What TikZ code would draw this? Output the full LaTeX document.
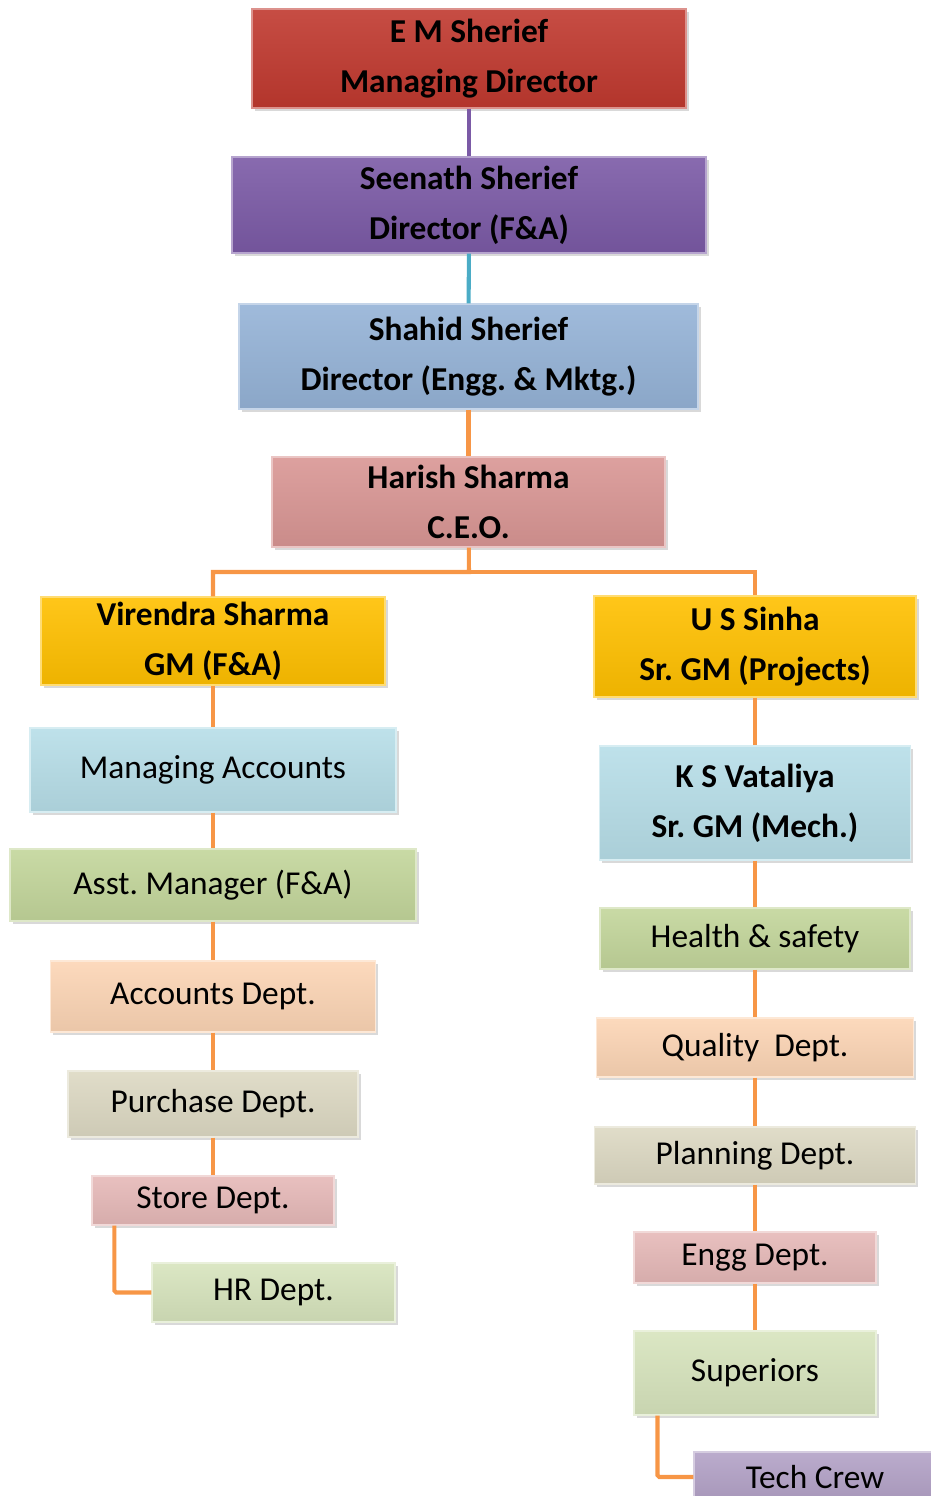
\documentclass[tikz,border=0pt]{standalone}
\usepackage{fontspec}
\setmainfont{Carlito}
\frenchspacing
\usetikzlibrary{shadows}

\definecolor{mdred}{HTML}{C0392F}
\definecolor{dirpurple}{HTML}{7B5AA6}
\definecolor{dirblue}{HTML}{95B3D7}
\definecolor{ceopink}{HTML}{D99694}
\definecolor{gmgold}{HTML}{FFC000}
\definecolor{paleblue}{HTML}{B7DEE8}
\definecolor{palegreen}{HTML}{C3D69B}
\definecolor{peach}{HTML}{FCD5B5}
\definecolor{tan}{HTML}{DDD9C3}
\definecolor{palepink}{HTML}{E6B9B8}
\definecolor{lightgreen}{HTML}{D7E4BD}
\definecolor{lavender}{HTML}{B3A2C7}
\definecolor{linkorange}{HTML}{F79646}
\definecolor{linkteal}{HTML}{4BACC6}

\tikzset{
  box/.style={rectangle, inner sep=0pt, align=center,
    font=\fontsize{19}{28.5}\selectfont,
    top color=#1!90!white, bottom color=#1!93!black,
    draw=#1!55!white, line width=0.6pt,
    drop shadow={opacity=0.3, shadow xshift=1.5pt, shadow yshift=-1.5pt}},
  head/.style={font=\fontsize{19}{28.5}\selectfont\bfseries},
  size/.style 2 args={minimum width=#1*0.02cm, minimum height=#2*0.02cm},
  link/.style={line width=2.3pt, draw=#1},
}

\begin{document}
\begin{tikzpicture}[x=0.02cm, y=-0.02cm]
    \useasboundingbox (0,0) rectangle (930,1496);

    % top of the tree
    \node[box=mdred, head, size={434}{99}] (md) at (469,58.5) {E M Sherief\\Managing Director};
    \node[box=dirpurple, head, size={474}{96}] (dirfa) at (469,205) {Seenath Sherief\\Director (F\&A)};
    \node[box=dirblue, head, size={459}{105}] (direm) at (468.5,356.5) {Shahid Sherief\\Director (Engg. \& Mktg.)};
    \node[box=ceopink, head, size={393}{90}] (ceo) at (468.5,502) {Harish Sharma\\C.E.O.};
    \coordinate (split) at (469,572);

    % left column
    \node[box=gmgold, head, size={344}{88}] (gmfa) at (213,641) {Virendra Sharma\\GM (F\&A)};
    \node[box=paleblue, size={366}{84}] (macc) at (213,770) {Managing Accounts};
    \node[box=palegreen, size={406}{72}] (asst) at (213,885) {Asst. Manager (F\&A)};
    \node[box=peach, size={325}{71}] (acc) at (213,996.5) {Accounts Dept.};
    \node[box=tan, size={290}{66}] (purch) at (213,1104) {Purchase Dept.};
    \node[box=palepink, size={242}{49}] (store) at (213,1200.5) {Store Dept.};
    \node[box=lightgreen, size={243}{59}] (hr) at (273.5,1292.5) {HR Dept.};

    % right column
    \node[box=gmgold, head, size={322}{101}] (gmproj) at (755,646.5) {U S Sinha\\Sr. GM (Projects)};
    \node[box=paleblue, head, size={311}{114}] (gmmech) at (755,803) {K S Vataliya\\Sr. GM (Mech.)};
    \node[box=palegreen, size={310}{61}] (hse) at (755,938.5) {Health \& safety};
    \node[box=peach, size={317}{59}] (qual) at (755,1047.5) {Quality~ Dept.};
    \node[box=tan, size={321}{57}] (plan) at (755,1155.5) {Planning Dept.};
    \node[box=palepink, size={242}{51}] (engg) at (755,1257.5) {Engg Dept.};
    \node[box=lightgreen, size={242}{84}] (sup) at (755,1373) {Superiors};
    \node[box=lavender, size={242}{50}] (crew) at (815,1477) {Tech Crew};

    % connectors
    \draw[link=dirpurple] (md) -- (dirfa);
    \draw[link=linkteal] (dirfa) -- (direm);
    \draw[link=linkorange] (direm) -- (ceo);
    \draw[link=linkorange] (ceo) -- (split) -| (gmfa);
    \draw[link=linkorange] (split) -| (gmproj);

    \draw[link=linkorange] (gmfa) -- (macc);
    \draw[link=linkorange] (macc) -- (asst);
    \draw[link=linkorange] (asst) -- (acc);
    \draw[link=linkorange] (acc) -- (purch);
    \draw[link=linkorange] (purch) -- (store);
    \draw[link=linkorange, rounded corners=1pt] ([xshift=0.46cm]store.south west) |- (hr.west);

    \draw[link=linkorange] (gmproj) -- (gmmech);
    \draw[link=linkorange] (gmmech) -- (hse);
    \draw[link=linkorange] (hse) -- (qual);
    \draw[link=linkorange] (qual) -- (plan);
    \draw[link=linkorange] (plan) -- (engg);
    \draw[link=linkorange] (engg) -- (sup);
    \draw[link=linkorange, rounded corners=1pt] ([xshift=0.48cm]sup.south west) |- (crew.west);
\end{tikzpicture}
\end{document}
